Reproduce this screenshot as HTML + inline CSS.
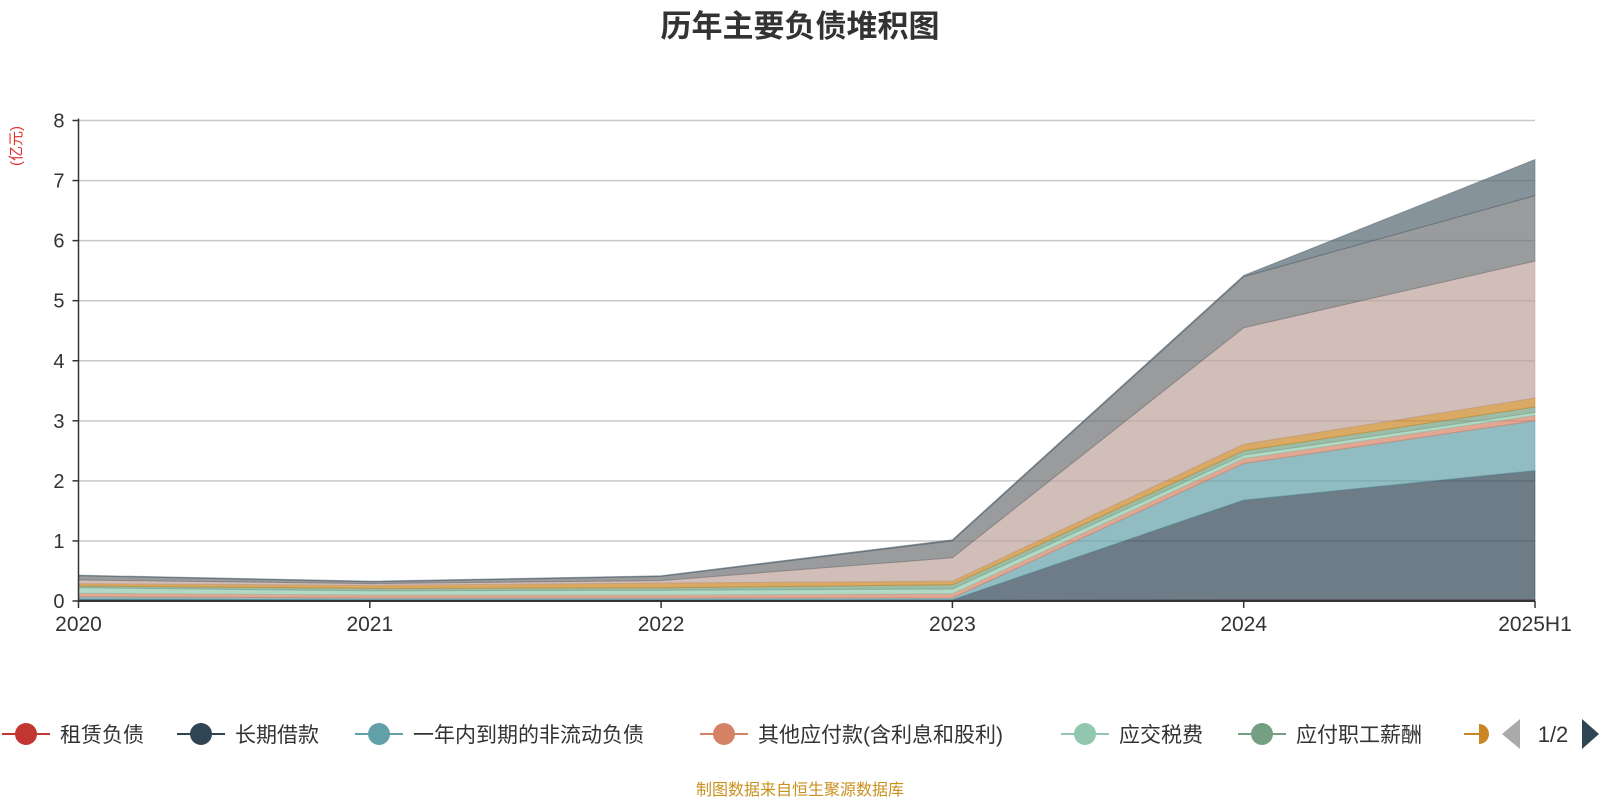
<!DOCTYPE html>
<html><head><meta charset="utf-8">
<style>
html,body{margin:0;padding:0;background:#fff;}
svg{display:block;font-family:"Liberation Sans","Noto Sans CJK SC",sans-serif;}
</style></head>
<body>
<svg id="chart" width="1600" height="800" viewBox="0 0 1600 800">
<text x="800" y="37" text-anchor="middle" font-size="31" font-weight="bold" fill="#333">历年主要负债堆积图</text>
<text transform="translate(21,146) rotate(-90)" text-anchor="middle" font-size="15" fill="#e03030">(亿元)</text>
<g id="grid"></g>
<g id="areas"></g>
<g id="axes"></g>
<g id="legend"></g>
<text x="800" y="795" text-anchor="middle" font-size="16" fill="#c8901f">制图数据来自恒生聚源数据库</text>
</svg>
<script>
const categories = ["2020","2021","2022","2023","2024","2025H1"];
const seriesNames = ["租赁负债","长期借款","一年内到期的非流动负债","其他应付款(含利息和股利)","应交税费","应付职工薪酬","应付账款","合同负债","应付票据","其他"];
const sLease   = [0.01,0.01,0.01,0.01,0.02,0.02];
const sLongLoan= [0.02,0.01,0.01,0.01,1.66,2.15];
const sCurrent = [0.04,0.03,0.03,0.03,0.61,0.83];
const sOtherPay= [0.06,0.05,0.05,0.07,0.08,0.09];
const sTax     = [0.09,0.07,0.08,0.08,0.06,0.05];
const sSalary  = [0.03,0.04,0.04,0.07,0.07,0.09];
const sAP      = [0.04,0.05,0.08,0.06,0.11,0.15];
const sContract= [0.06,0.03,0.04,0.39,1.94,2.28];
const sNotes   = [0.07,0.03,0.07,0.28,0.85,1.09];
const sOther   = [0.01,0.01,0.01,0.02,0.02,0.60];
const yTicks = [0,1,2,3,4,5,6,7,8];
const series = [sLease,sLongLoan,sCurrent,sOtherPay,sTax,sSalary,sAP,sContract,sNotes,sOther];
const colors = ["#c23531","#2f4554","#61a0a8","#d48265","#91c7ae","#749f83","#ca8622","#bda29a","#6e7074","#546570"];
const NS="http://www.w3.org/2000/svg";
const X0=78.5,X1=1535,Y0=601,Y1=120.5,YMAX=8;
function xS(i){return X0+(X1-X0)*i/(categories.length-1);}
function yS(v){return Y0-(Y0-Y1)*v/YMAX;}
function mk(tag,attrs,parent){const e=document.createElementNS(NS,tag);for(const k in attrs)e.setAttribute(k,attrs[k]);parent.appendChild(e);return e;}
const grid=document.getElementById('grid'),axes=document.getElementById('axes'),areas=document.getElementById('areas'),legend=document.getElementById('legend');
yTicks.forEach(t=>{
  if(t>0){const l=mk('line',{x1:X0,x2:X1,y1:yS(t),y2:yS(t),stroke:'#c8c8c8','stroke-width':1.5},grid);
  
  }
  const tk=mk('line',{x1:X0-6,x2:X0,y1:yS(t),y2:yS(t),stroke:'#333','stroke-width':1.5},axes);
  
  
  const tx=mk('text',{x:X0-14,y:yS(t)+7,'text-anchor':'end','font-size':20,fill:'#333'},axes);
  tx.textContent=t;
  
  
});
let cum=categories.map(()=>0);
series.forEach((s,si)=>{
  const lower=cum.slice();
  const upper=cum.map((c,i)=>c+s[i]);
  let d='';
  upper.forEach((v,i)=>{d+=(i?'L':'M')+xS(i)+','+yS(v);});
  for(let i=lower.length-1;i>=0;i--)d+='L'+xS(i)+','+yS(lower[i]);
  d+='Z';
  const p=mk('path',{d:d,fill:colors[si],'fill-opacity':0.7,stroke:colors[si],'stroke-opacity':0.5,'stroke-width':1},areas);
  
  
  cum=upper;
});
const ax=mk('line',{x1:X0,x2:X0,y1:Y1-2,y2:Y0,stroke:'#333','stroke-width':1.5},axes);


const xl=mk('line',{x1:X0,x2:X1,y1:Y0,y2:Y0,stroke:'#333','stroke-width':2},axes);


categories.forEach((c,i)=>{
  const tk=mk('line',{x1:xS(i),x2:xS(i),y1:Y0,y2:Y0+7,stroke:'#333','stroke-width':1.5},axes);
  
  
  const tx=mk('text',{x:xS(i),y:Y0+30,'text-anchor':'middle','font-size':21,fill:'#333'},axes);
  tx.textContent=c;
  
  
});
const legendX=[2,177,355,700,1061,1238,1464];
legendX.forEach((lx,i)=>{
  const g=mk('g',{},legend);
  
  
  const cy=734;
  if(i<6){
    mk('line',{x1:lx,x2:lx+48,y1:cy,y2:cy,stroke:colors[i],'stroke-width':2},g);
    mk('circle',{cx:lx+24,cy:cy,r:11,fill:colors[i]},g);
    const t=mk('text',{x:lx+58,y:cy+8,'font-size':21,fill:'#333'},g);
    t.textContent=seriesNames[i];
  } else {
    mk('line',{x1:lx,x2:lx+15,y1:cy,y2:cy,stroke:colors[i],'stroke-width':2},g);
    mk('path',{d:`M${lx+15},${cy-10}A10,10 0 0 1 ${lx+15},${cy+10}Z`,fill:colors[i]},g);
  }
});
const pl=mk('path',{d:'M1502,734L1520,719L1520,749Z',fill:'#aaa'},legend);


const pt=mk('text',{x:1553,y:742,'text-anchor':'middle','font-size':22,fill:'#333'},legend);
pt.textContent='1/2';


const pn=mk('path',{d:'M1599,734L1582,719L1582,749Z',fill:'#2f4554'},legend);


</script>
</body></html>
